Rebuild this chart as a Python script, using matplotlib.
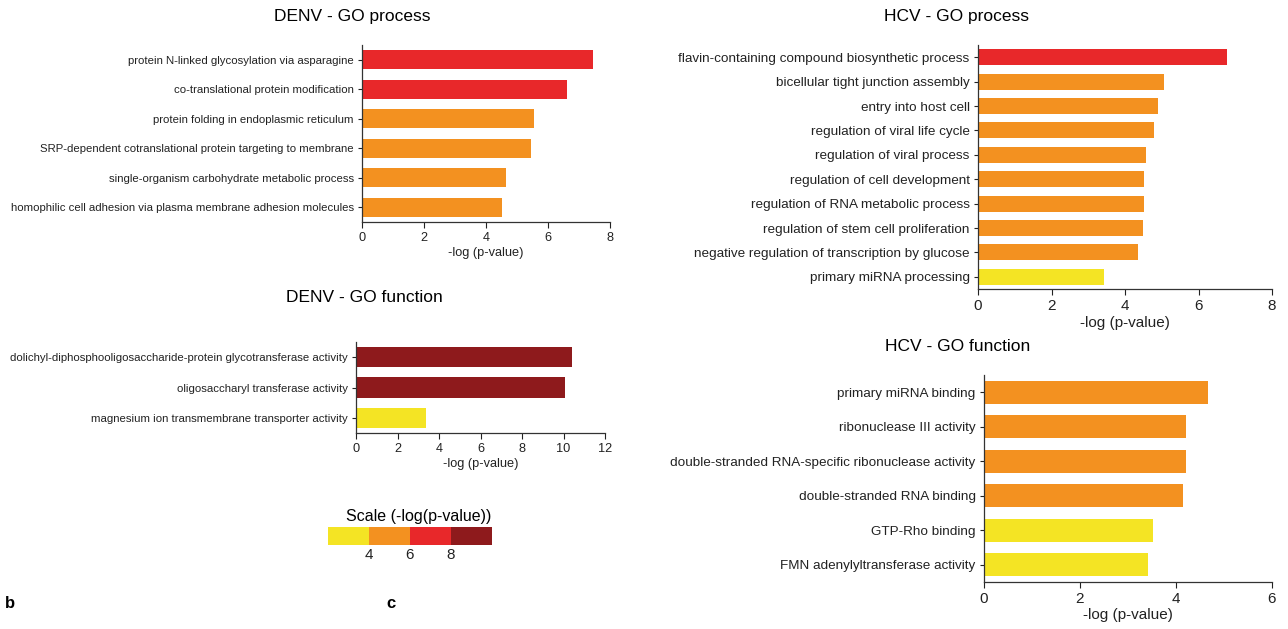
import matplotlib
matplotlib.use('Agg')
import matplotlib.pyplot as plt
import numpy as np

plt.rcParams['font.family'] = ['Liberation Sans', 'DejaVu Sans']

W, H = 1288, 629

# -log(p-value) bins for bar colouring
scale_edges = [2, 4, 6, 8, 10]
scale_colors = ['#f4e424', '#f39120', '#e8282a', '#8e1a1c']
scale_ticks = [4, 6, 8]

denv_proc_terms = [
    'protein N-linked glycosylation via asparagine',
    'co-translational protein modification',
    'protein folding in endoplasmic reticulum',
    'SRP-dependent cotranslational protein targeting to membrane',
    'single-organism carbohydrate metabolic process',
    'homophilic cell adhesion via plasma membrane adhesion molecules',
]
denv_proc_vals = [7.45, 6.6, 5.54, 5.44, 4.66, 4.5]

denv_func_terms = [
    'dolichyl-diphosphooligosaccharide-protein glycotransferase activity',
    'oligosaccharyl transferase activity',
    'magnesium ion transmembrane transporter activity',
]
denv_func_vals = [10.42, 10.06, 3.39]

hcv_proc_terms = [
    'flavin-containing compound biosynthetic process',
    'bicellular tight junction assembly',
    'entry into host cell',
    'regulation of viral life cycle',
    'regulation of viral process',
    'regulation of cell development',
    'regulation of RNA metabolic process',
    'regulation of stem cell proliferation',
    'negative regulation of transcription by glucose',
    'primary miRNA processing',
]
hcv_proc_vals = [6.77, 5.06, 4.90, 4.78, 4.57, 4.52, 4.51, 4.49, 4.36, 3.43]

hcv_func_terms = [
    'primary miRNA binding',
    'ribonuclease III activity',
    'double-stranded RNA-specific ribonuclease activity',
    'double-stranded RNA binding',
    'GTP-Rho binding',
    'FMN adenylyltransferase activity',
]
hcv_func_vals = [4.67, 4.21, 4.21, 4.15, 3.53, 3.42]


def bin_color(v):
    i = np.searchsorted(scale_edges[1:-1], v, side='right')
    return scale_colors[i]


def px_axes(fig, left, right, top, bottom):
    return fig.add_axes([left / W, 1 - bottom / H, (right - left) / W, (bottom - top) / H])


def panel(fig, box, terms, vals, xmax, label_fs, tick_fs):
    ax = px_axes(fig, *box)
    y = np.arange(len(vals))
    ax.barh(y, vals, height=0.66, color=[bin_color(v) for v in vals])
    ax.set_yticks(y)
    ax.set_yticklabels(terms, fontsize=label_fs, color='#222222')
    ax.set_ylim(len(vals) - 0.5, -0.5)
    ax.set_xlim(0, xmax)
    ax.set_xticks(np.arange(0, xmax + 1, 2))
    ax.tick_params(axis='x', labelsize=tick_fs, length=4, width=0.8, pad=3, colors='#222222')
    ax.tick_params(axis='y', length=3, width=0.8, pad=3, colors='#222222')
    for s in ['top', 'right']:
        ax.spines[s].set_visible(False)
    for s in ['left', 'bottom']:
        ax.spines[s].set_color('#333333')
        ax.spines[s].set_linewidth(0.9)
    ax.set_xlabel('-log (p-value)', fontsize=tick_fs, color='#222222', labelpad=2)
    return ax


fig = plt.figure(figsize=(W / 100, H / 100), dpi=100)

panel(fig, (362, 610, 45, 222), denv_proc_terms, denv_proc_vals, 8, 8.2, 9.2)
panel(fig, (356, 605, 342, 433), denv_func_terms, denv_func_vals, 12, 8.2, 9.2)
panel(fig, (978, 1272, 45, 289), hcv_proc_terms, hcv_proc_vals, 8, 9.7, 11)
panel(fig, (984, 1272, 375, 582), hcv_func_terms, hcv_func_vals, 6, 9.7, 11)

fig.text(352 / W, 1 - 17 / H, 'DENV - GO process', ha='center', va='center', fontsize=12.5)
fig.text(364 / W, 1 - 298 / H, 'DENV - GO function', ha='center', va='center', fontsize=12.5)
fig.text(957 / W, 1 - 16 / H, 'HCV - GO process', ha='center', va='center', fontsize=12.5)
fig.text(958 / W, 1 - 346 / H, 'HCV - GO function', ha='center', va='center', fontsize=12.5)

# colour scale key
kx = px_axes(fig, 328, 492, 527, 545)
kx.bar(scale_edges[:-1], [1] * len(scale_colors), width=np.diff(scale_edges),
       align='edge', color=scale_colors)
kx.set_xlim(scale_edges[0], scale_edges[-1])
kx.set_ylim(0, 1)
kx.set_xticks(scale_ticks)
kx.set_xticklabels([str(t) for t in scale_ticks], fontsize=11, color='#222222')
kx.tick_params(axis='x', length=0, pad=2)
kx.set_yticks([])
for s in kx.spines.values():
    s.set_visible(False)
kx.set_title('Scale (-log(p-value))', fontsize=11.5, pad=4, x=0.55)

fig.text(5 / W, 1 - 603 / H, 'b', fontsize=12, fontweight='bold', va='center')
fig.text(386 / W, 1 - 603 / H, 'c', fontsize=12, fontweight='bold', va='center')

fig.savefig('out.png', dpi=100)
